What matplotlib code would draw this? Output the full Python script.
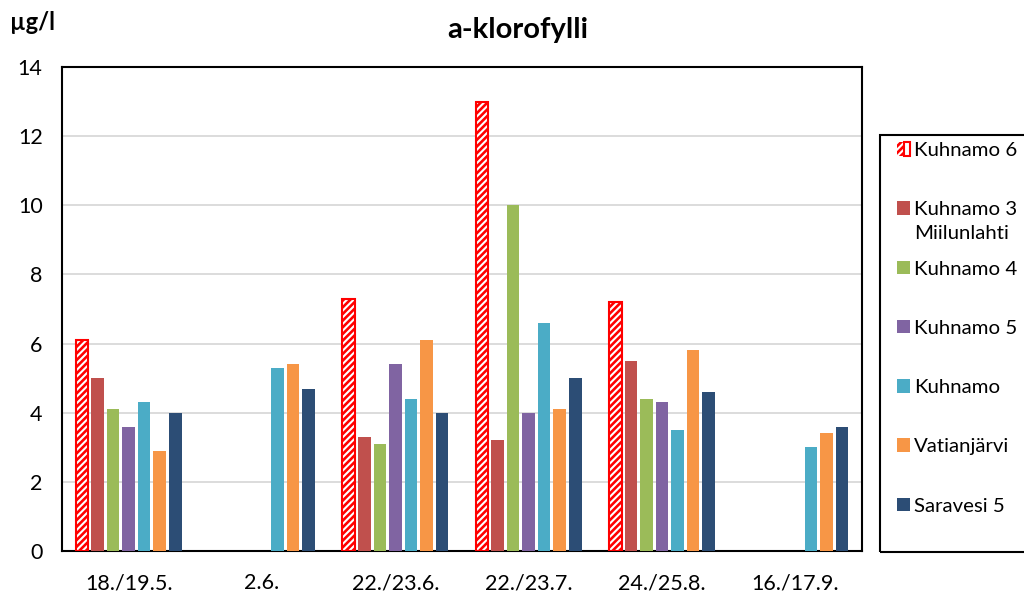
import numpy as np
import matplotlib.pyplot as plt
from matplotlib.legend_handler import HandlerTuple
from matplotlib.patches import Rectangle

plt.rcParams['font.family'] = ['Lato', 'DejaVu Sans']
plt.rcParams['hatch.linewidth'] = 1.5

dates = ["18./19.5.", "2.6.", "22./23.6.", "22./23.7.", "24./25.8.", "16./17.9."]
nan = np.nan
kuhnamo6 = [6.1, nan, 7.3, 13.0, 7.2, nan]
kuhnamo3 = [5.0, nan, 3.3, 3.2, 5.5, nan]
kuhnamo4 = [4.1, nan, 3.1, 10.0, 4.4, nan]
kuhnamo5 = [3.6, nan, 5.4, 4.0, 4.3, nan]
kuhnamo = [4.3, 5.3, 4.4, 6.6, 3.5, 3.0]
vatianjarvi = [2.9, 5.4, 6.1, 4.1, 5.8, 3.4]
saravesi5 = [4.0, 4.7, 4.0, 5.0, 4.6, 3.6]

series = [
    ("Kuhnamo 3", kuhnamo3, "#C0504D"),
    ("Kuhnamo 4", kuhnamo4, "#9BBB59"),
    ("Kuhnamo 5", kuhnamo5, "#8064A2"),
    ("Kuhnamo", kuhnamo, "#4BACC6"),
    ("Vatianjärvi", vatianjarvi, "#F79646"),
    ("Saravesi 5", saravesi5, "#2C4D75"),
]

W, H = 1024, 594
fig = plt.figure(figsize=(W / 100, H / 100), dpi=100)
ax = fig.add_axes([62 / W, 1 - 551 / H, 800 / W, 484 / H])

x = np.arange(len(dates))
slot = 0.1165
width = 0.094
offs = (np.arange(7) - 3) * slot

# Kuhnamo 6: red fill with white stripes + red outline
h1 = ax.bar(x + offs[0], kuhnamo6, width, color="red", edgecolor="white",
            hatch="/////", linewidth=0, zorder=3)
h2 = ax.bar(x + offs[0], kuhnamo6, width, fill=False, edgecolor="red",
            linewidth=1.5, zorder=4)
handles = [(h1.patches[0], h2.patches[0])]
labels = ["Kuhnamo 6"]
for i, (name, vals, col) in enumerate(series):
    b = ax.bar(x + offs[i + 1], vals, width, color=col, zorder=3)
    handles.append(b.patches[0])
    labels.append(name)

ax.set_xlim(-0.5, len(dates) - 0.5)
ax.set_ylim(0, 14)
ax.set_yticks(range(0, 15, 2))
ax.set_xticks(x)
ax.set_xticklabels(dates)
ax.tick_params(length=0, labelsize=15.5)
ax.tick_params(axis="x", pad=16)
ax.tick_params(axis="y", pad=14)
ax.yaxis.grid(True, color="#d9d9d9", lw=1.3, zorder=0)
for s in ax.spines.values():
    s.set_linewidth(1.5)
    s.set_color("black")

fig.text(518 / W, 1 - 30 / H, "a-klorofylli", ha="center", va="center",
         fontsize=21, fontweight="bold")
fig.text(10 / W, 1 - 22 / H, "µg/l", ha="left", va="center", fontsize=17,
         fontweight="bold")

# legend frame drawn separately (runs off the right edge like the original)
fig.patches.append(Rectangle((880 / W, 1 - 552 / H), 160 / W, 417 / H,
                             transform=fig.transFigure, fill=False,
                             edgecolor="black", lw=1.5))
leg = fig.legend(handles, labels, loc="upper left",
                 bbox_to_anchor=(897 / W, 1 - 142 / H), fontsize=14.7,
                 handler_map={tuple: HandlerTuple(ndivide=None, pad=0)},
                 handlelength=0.65, handleheight=0.65, handletextpad=0.2,
                 labelspacing=2.07, frameon=False, borderpad=0,
                 borderaxespad=0)

# second line of the Kuhnamo 3 entry
fig.canvas.draw()
bb = leg.get_texts()[1].get_window_extent()
fig.text(bb.x0 / W, (bb.y0 - 7) / H, "Miilunlahti", ha="left", va="top",
         fontsize=14.7)

fig.savefig("out.png", dpi=100)
